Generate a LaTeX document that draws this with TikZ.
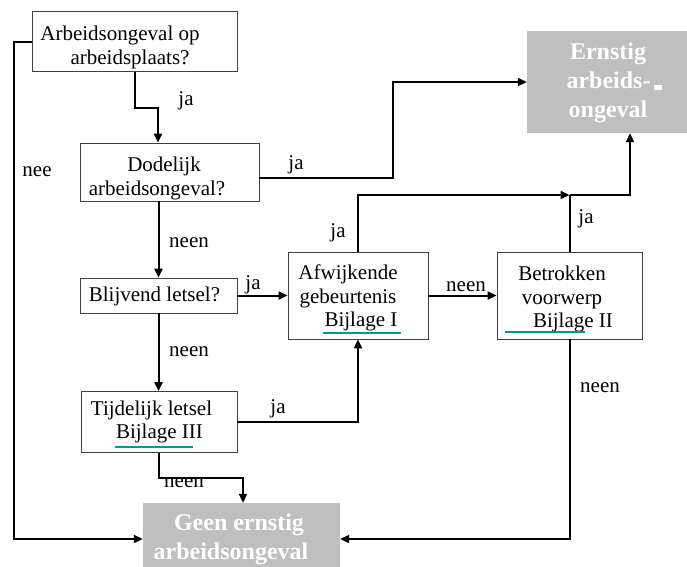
\documentclass[tikz,border=0pt]{standalone}
\usepackage{fontspec}
\setmainfont{Liberation Serif}
\newfontfamily\tms{Liberation Serif}
\usetikzlibrary{arrows.meta}
\definecolor{boxgray}{RGB}{191,191,191}
\definecolor{ulteal}{RGB}{0,150,150}
\begin{document}
\begin{tikzpicture}[x=1pt,y=-1pt,
  box/.style={draw=black!75, line width=0.8pt, fill=white, inner sep=0pt},
  endbox/.style={fill=boxgray, inner sep=0pt},
  txt/.style={inner sep=0pt, align=center, font=\tms\fontsize{21}{23.5}\selectfont},
  endtxt/.style={inner sep=0pt, align=center, text=white,
    font=\tms\fontsize{24}{29}\selectfont\bfseries},
  lab/.style={inner sep=0pt, font=\tms\fontsize{21}{24}\selectfont},
  conn/.style={line width=2pt, -{Triangle[length=9pt,width=8pt]}},
  plainline/.style={line width=2pt},
  ul/.style={draw=ulteal, line width=1.6pt}
]
\useasboundingbox (0,0) rectangle (687,566);

% boxes
\node[box, minimum width=205pt, minimum height=60pt] (b1) at (134.5,41.5) {};
\node[box, minimum width=179pt, minimum height=58pt] (b2) at (169.5,172) {};
\node[box, minimum width=157pt, minimum height=35pt] (b3) at (158.5,295.5) {};
\node[box, minimum width=156pt, minimum height=61pt] (b4) at (159,422) {};
\node[box, minimum width=140pt, minimum height=87pt] (afw) at (358,295.5) {};
\node[box, minimum width=145pt, minimum height=87pt] (bet) at (569.5,295.5) {};
\node[endbox, minimum width=160pt, minimum height=102pt] (ern) at (607,82) {};
\node[endbox, minimum width=197pt, minimum height=72pt] (geen) at (241.5,539) {};

% box texts
\node[txt] (t1) at (120,47.5) {Arbeidsongeval op\\\hspace*{20pt}arbeidsplaats?};
\node[txt] (t2) at (157,178.5) {\hspace*{14pt}Dodelijk\\arbeidsongeval?};
\node[txt] (t3) at (154.5,296.5) {Blijvend letsel?};
\node[txt] (t4) at (151.5,422) {Tijdelijk letsel\\\hspace*{16pt}Bijlage III};
\node[txt] (t5) at (348,298) {Afwijkende\\gebeurtenis\\\hspace*{26pt}Bijlage I};
\node[txt] (t6) at (562,299) {Betrokken\\voorwerp\\\hspace*{22pt}Bijlage II};
\node[endtxt] (t7) at (608,83) {Ernstig\\\hspace*{12pt}arbeids-\hspace{3pt}\rule[-1pt]{8pt}{5pt}\\ongeval};
\node[endtxt] (t8) at (231,539.5) {\hspace*{16pt}Geen ernstig\\arbeidsongeval};

% underlines
\draw[ul] (323,333) -- (401,333);
\draw[ul] (505,332) -- (585,332);
\draw[ul] (115,447) -- (193,447);

% labels
\node[lab] (l1) at (186,101) {ja};
\node[lab] (l2) at (37,172) {nee};
\node[lab] (l3) at (296,165) {ja};
\node[lab] (l4) at (189,243) {neen};
\node[lab] (l5) at (253,285) {ja};
\node[lab] (l6) at (338,233) {ja};
\node[lab] (l7) at (189,352) {neen};
\node[lab] (l8) at (466,287) {neen};
\node[lab] (l9) at (586,219) {ja};
\node[lab] (l10) at (600,388) {neen};
\node[lab] (l11) at (278,409) {ja};
\node[lab] (l12) at (184,483) {neen};

% connectors
\coordinate (k1) at (393,178);
\coordinate (j) at (bet.north |- 0,195);
\draw[conn] (b1.south) -- ++(0,36) -| ([xshift=-11.5pt]b2.north);
\draw[conn] (b1.west) -- ++(-18,0) |- (geen.west);
\draw[conn] ([yshift=-6pt]b2.east) -- (k1) |- (ern.west);
\draw[conn] (b2.south -| b3.north) -- (b3.north);
\draw[conn] (b3.east) -- (b3.east -| afw.west);
\draw[conn] (b3.south) -- (b3.south |- b4.north);
\draw[conn] (b4.east) -| (afw.south);
\draw[conn] (afw.east) -- (bet.west);
\draw[conn] (afw.north) |- (j);
\draw[plainline] (bet.north) -- (j);
\draw[conn] (j) -| ([xshift=23pt]ern.south);
\draw[conn] (bet.south) |- (geen.east);
\draw[conn] (b4.south) -- ++(0,25.5) -| ([xshift=1.5pt]geen.north);
\end{tikzpicture}
\end{document}
